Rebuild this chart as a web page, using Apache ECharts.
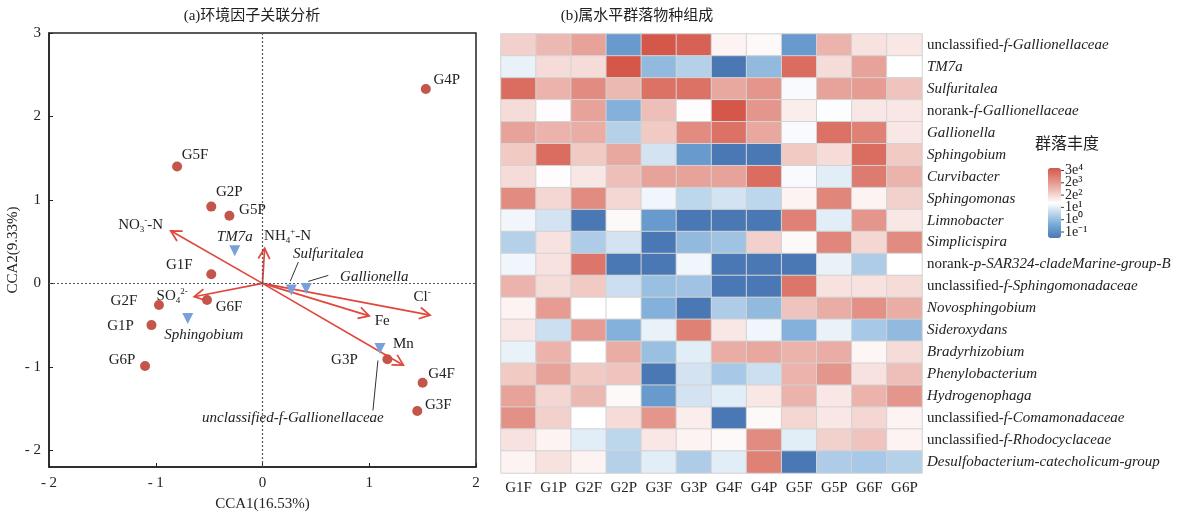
<!DOCTYPE html>
<html><head><meta charset="utf-8">
<script src="https://cdn.jsdelivr.net/npm/echarts@6/dist/echarts.min.js"></script>
<style>html,body{margin:0;padding:0;background:#fff}#c{width:1186px;height:517px}</style>
</head><body><div id="c"></div>
<script>
// ---------- (a) CCA data ----------
const sampleNames = ['G4P','G5F','G2P','G5P','G1F','G6F','G2F','G1P','G6P','G3P','G4F','G3F'];
const sampleX = [1.53,-0.80,-0.48,-0.31,-0.48,-0.52,-0.97,-1.04,-1.10,1.17,1.50,1.45];
const sampleY = [2.33,1.40,0.92,0.81,0.11,-0.20,-0.26,-0.50,-0.99,-0.91,-1.19,-1.53];
const taxaNames = ['TM7a','Sulfuritalea','Gallionella','Sphingobium','unclassified-f-Gallionellaceae'];
const taxaX = [-0.26,0.27,0.41,-0.70,1.10];
const taxaY = [0.39,-0.08,-0.06,-0.42,-0.78];
const envNames = ['NO3-N','NH4+-N','SO42-','Cl-','Fe','Mn'];
const envX = [-0.86,0.02,-0.64,1.57,1.00,1.32];
const envY = [0.63,0.42,-0.16,-0.38,-0.39,-0.98];
const xTicks = [-2,-1,0,1,2];
const yTicks = [-2,-1,0,1,2,3];

// ---------- (b) heatmap data ----------
const samples = ['G1F','G1P','G2F','G2P','G3F','G3P','G4F','G4P','G5F','G5P','G6F','G6P'];
const genera = ['unclassified-f-Gallionellaceae','TM7a','Sulfuritalea','norank-f-Gallionellaceae','Gallionella',
  'Sphingobium','Curvibacter','Sphingomonas','Limnobacter','Simplicispira','norank-p-SAR324-cladeMarine-group-B',
  'unclassified-f-Sphingomonadaceae','Novosphingobium','Sideroxydans','Bradyrhizobium','Phenylobacterium',
  'Hydrogenophaga','unclassified-f-Comamonadaceae','unclassified-f-Rhodocyclaceae','Desulfobacterium-catecholicum-group'];
const abundance = [
  [0.8,1.2,1.6,-2.2,3,2.8,0.2,0.1,-2.2,1.3,0.5,0.4],
  [-0.3,0.6,0.6,3,-1.5,-1.0,-3,-1.5,2.6,0.6,1.6,0],
  [2.6,1.3,2.0,1.2,2.5,2.5,1.5,1.8,-0.1,1.6,1.7,1.0],
  [0.6,0.05,1.6,-1.7,1.1,0.05,3,1.8,0.3,-0.05,0.4,0.4],
  [1.6,1.3,1.4,-1.0,0.9,2.0,2.5,1.5,-0.1,2.5,2.2,0.4],
  [0.9,2.6,0.9,1.5,-0.6,-2.2,-3,-3,0.9,0.6,2.6,0.9],
  [0.6,0.05,0.4,1.1,1.6,1.6,1.6,2.6,-0.1,-0.4,2.3,1.3],
  [2.0,0.7,2.0,0.7,-0.2,-0.9,-0.6,-0.9,0.2,2.1,0.2,0.8],
  [-0.2,-0.6,-3,0.1,-2.2,-3,-3,-3,2.2,-0.4,1.8,0.4],
  [-1.0,0.5,-1.1,-0.6,-3,-1.5,-1.3,0.8,0.1,2.1,0.7,2.0],
  [-0.2,0.5,2.4,-3,-3,-0.2,-3,-3,-3,-0.3,-1.1,0],
  [1.3,0.6,0.9,-0.7,-1.4,-1.3,-3,-3,2.4,0.5,0.5,0.6],
  [0.2,1.7,0,0,-1.7,-3,-1.1,-1.5,1.0,1.4,1.9,1.4],
  [0.4,-0.7,1.7,-1.7,-0.3,2.2,0.4,-0.2,-1.7,-0.3,-1.2,-1.5],
  [-0.3,1.3,0,1.4,-1.4,-0.4,1.4,1.5,1.3,1.4,0.15,0.6],
  [0.9,1.6,0.9,1.0,-3,-0.6,-1.2,-0.7,1.3,1.8,0.5,1.1],
  [1.6,0.7,1.2,0.1,-2.2,-0.6,-0.4,0.4,1.3,0.4,1.3,1.8],
  [1.9,0.8,0,0.6,1.8,0.3,-3,0.1,0.7,0.4,0.7,0.2],
  [0.5,0.2,-0.4,-0.9,0.4,0.2,0.1,2.0,-0.4,0.8,1.0,0.2],
  [0.2,0.5,0.2,-1.0,-0.4,-1.1,-0.4,2.2,-3,-1.1,-1.2,-1.0]
];
const legendLabels = ['3e⁴','2e³','2e²','1e¹','1e⁰','1e⁻¹'];

// ---------- layout / style ----------
const SERIF = "'Liberation Serif','Times New Roman','Noto Sans CJK SC',serif";
const CJK = "'Liberation Serif','Noto Sans CJK SC',serif";
const RED = '#e0473d';
const DOT = '#c3554b';
const TRI = '#7a9fd9';
const FS = 15;

const sampleLabelOff = {G4P:[21,-9],G5F:[18,-11],G2P:[18,-15],G5P:[23,-6],G1F:[-32,-9],G6F:[22,7],
  G2F:[-35,-4],G1P:[-31,1],G6P:[-23,-6],G3P:[-43,1],G4F:[19,-9],G3F:[21,-6]};
const taxaLabelOff = {'TM7a':[0,-14],'Sulfuritalea':[37,-36],'Gallionella':[68,-11],'Sphingobium':[16,17],
  'unclassified-f-Gallionellaceae':[-87,70]};
const taxaLeader = {'Sulfuritalea':[[-1,-9],[7,-28]],'Gallionella':[[2,-7],[22,-13]],
  'unclassified-f-Gallionellaceae':[[-2,12],[-7,62]]};
const envLabelOff = {'NO3-N':[-30,-6],'NH4+-N':[23,-12],'SO42-':[-22,-1],'Cl-':[-8,-18],'Fe':[13,5],'Mn':[0,-21]};
const envRich = {'NO3-N':'NO{sub|3}{sup|-}-N','NH4+-N':'NH{sub|4}{sup|+}-N','SO42-':'SO{sub|4}{sup|2-}',
  'Cl-':'Cl{sup|-}','Fe':'Fe','Mn':'Mn'};
const richStyles = {
  sub:{fontSize:9,fontFamily:SERIF,fill:'#222',verticalAlign:'bottom',lineHeight:9},
  sup:{fontSize:9,fontFamily:SERIF,fill:'#222',verticalAlign:'top',lineHeight:9}
};

const chart = echarts.init(document.getElementById('c'));

function genusLabel(name){
  const m = name.match(/^(unclassified-|norank-)(.*)$/);
  if (m) return '{r|' + m[1] + '}{i|' + m[2] + '}';
  return '{i|' + name + '}';
}
const negFmt = v => v < 0 ? '- ' + Math.abs(v) : String(v);

const heatData = [];
abundance.forEach((row, r) => row.forEach((v, c) => heatData.push([c, r, v])));

const ptLabel = {show: true, position: 'inside', fontFamily: SERIF, fontSize: FS, color: '#222',
  textBorderWidth: 0, textShadowBlur: 0, opacity: 1};

const option = {
  animation: false,
  backgroundColor: '#fff',
  textStyle: {fontFamily: SERIF},
  grid: [
    {left: 49, top: 33, width: 427, height: 438, show: true, borderColor: '#222', borderWidth: 1.5, backgroundColor: 'transparent'},
    {left: 501, top: 34, width: 421, height: 439}
  ],
  xAxis: [
    {gridIndex: 0, type: 'value', min: -2, max: 2, interval: 1,
     name: 'CCA1(16.53%)', nameLocation: 'middle', nameGap: 30,
     nameTextStyle: {fontFamily: SERIF, fontSize: FS, color: '#222'},
     axisLine: {show: true, onZero: false, lineStyle: {color: '#222', width: 1.5}},
     axisTick: {show: true, inside: true, length: 4, lineStyle: {color: '#222'}},
     axisLabel: {fontFamily: SERIF, fontSize: FS, color: '#222', margin: 9, formatter: negFmt},
     splitLine: {show: false}},
    {gridIndex: 1, type: 'category', data: samples,
     axisLine: {show: false}, axisTick: {show: false},
     axisLabel: {fontFamily: SERIF, fontSize: FS, color: '#222', margin: 8},
     splitLine: {show: false}}
  ],
  yAxis: [
    {gridIndex: 0, type: 'value', min: -2.2, max: 3,
     name: 'CCA2(9.33%)', nameLocation: 'middle', nameGap: 26,
     nameTextStyle: {fontFamily: SERIF, fontSize: FS, color: '#222'},
     axisLine: {show: true, onZero: false, lineStyle: {color: '#222', width: 1.5}},
     axisTick: {show: true, inside: true, length: 4, customValues: yTicks, lineStyle: {color: '#222'}},
     axisLabel: {fontFamily: SERIF, fontSize: FS, color: '#222', margin: 8,
       customValues: yTicks, formatter: negFmt},
     splitLine: {show: false}},
    {gridIndex: 1, type: 'category', data: genera, inverse: true, position: 'right',
     axisLine: {show: false}, axisTick: {show: false},
     axisLabel: {align: 'left', margin: 5, fontSize: FS, color: '#222', fontFamily: SERIF,
       formatter: genusLabel,
       rich: {r: {fontFamily: SERIF, fontSize: FS, color: '#222'},
              i: {fontFamily: SERIF, fontSize: FS, color: '#222', fontStyle: 'italic'}}},
     splitLine: {show: false}}
  ],
  visualMap: {
    type: 'continuous', seriesIndex: 4, min: -3, max: 3, show: true, calculable: false,
    left: 1048, top: 168, itemWidth: 13, itemHeight: 70, padding: 0, text: null,
    inRange: {color: ['#4a78b5','#6fa3d4','#b5d1ea','#ffffff','#efc4be','#e28b80','#d5574a']},
    hoverLink: false
  },
  graphic: [
    {type: 'text', x: 252, y: 16, style: {text: '(a)环境因子关联分析', font: FS + 'px ' + CJK, fill: '#222', align: 'center', verticalAlign: 'middle'}},
    {type: 'text', x: 637, y: 16, style: {text: '(b)属水平群落物种组成', font: FS + 'px ' + CJK, fill: '#222', align: 'center', verticalAlign: 'middle'}},
    {type: 'text', x: 1067, y: 145, style: {text: '群落丰度', font: '16px ' + CJK, fill: '#222', align: 'center', verticalAlign: 'middle'}}
  ].concat(legendLabels.map((t, i) => ({
    type: 'group', children: [
      {type: 'line', shape: {x1: 1061, y1: 170.5 + i * 12.3, x2: 1064, y2: 170.5 + i * 12.3}, style: {stroke: '#444', lineWidth: 1}},
      {type: 'text', x: 1065, y: 170.5 + i * 12.3, style: {text: t, font: '14px ' + SERIF, fill: '#222', align: 'left', verticalAlign: 'middle'}}
    ]}))),
  series: [
    // zero lines + sample points
    {type: 'scatter', xAxisIndex: 0, yAxisIndex: 0, z: 3,
     symbol: 'circle', symbolSize: 10, itemStyle: {color: DOT, opacity: 1},
     data: sampleNames.map((n, i) => ({name: n, value: [sampleX[i], sampleY[i]],
       label: Object.assign({}, ptLabel, {offset: sampleLabelOff[n], formatter: n})})),
     markLine: {silent: true, symbol: 'none', animation: false,
       label: {show: false},
       lineStyle: {type: [2, 2], color: '#555', width: 1.2},
       data: [{xAxis: 0}, {yAxis: 0}]}},
    // environmental arrows
    {type: 'custom', xAxisIndex: 0, yAxisIndex: 0, z: 4, clip: false,
     data: envNames.map((n, i) => [envX[i], envY[i], i]),
     renderItem: function (params, api) {
       const o = api.coord([0, 0]);
       const p = api.coord([api.value(0), api.value(1)]);
       const name = envNames[api.value(2)];
       const ang = Math.atan2(p[1] - o[1], p[0] - o[0]);
       const L = 12, a = 0.5;
       const h1 = [p[0] - L * Math.cos(ang - a), p[1] - L * Math.sin(ang - a)];
       const h2 = [p[0] - L * Math.cos(ang + a), p[1] - L * Math.sin(ang + a)];
       const off = envLabelOff[name];
       return {type: 'group', children: [
         {type: 'line', shape: {x1: o[0], y1: o[1], x2: p[0], y2: p[1]}, style: {stroke: RED, lineWidth: 1.7}},
         {type: 'polyline', shape: {points: [h1, p, h2]}, style: {stroke: RED, lineWidth: 1.7, fill: null}},
         {type: 'text', x: p[0] + off[0], y: p[1] + off[1],
          style: {text: envRich[name], rich: richStyles, fontSize: FS, fontFamily: SERIF, fill: '#222',
                  align: 'center', verticalAlign: 'middle', lineHeight: 18}}
       ]};
     }},
    // taxa leader lines
    {type: 'custom', xAxisIndex: 0, yAxisIndex: 0, z: 2, clip: false,
     data: taxaNames.map((n, i) => [taxaX[i], taxaY[i], i]),
     renderItem: function (params, api) {
       const name = taxaNames[api.value(2)];
       const ld = taxaLeader[name];
       if (!ld) return {type: 'group', children: []};
       const p = api.coord([api.value(0), api.value(1)]);
       return {type: 'line', shape: {x1: p[0] + ld[0][0], y1: p[1] + ld[0][1], x2: p[0] + ld[1][0], y2: p[1] + ld[1][1]},
               style: {stroke: '#333', lineWidth: 1}};
     }},
    // taxa triangles
    {type: 'scatter', xAxisIndex: 0, yAxisIndex: 0, z: 5,
     symbol: 'triangle', symbolRotate: 180, symbolSize: 11, itemStyle: {color: TRI, opacity: 1},
     data: taxaNames.map((n, i) => ({name: n, value: [taxaX[i], taxaY[i]],
       label: Object.assign({}, ptLabel, {offset: taxaLabelOff[n], formatter: n, fontStyle: 'italic'})}))},
    // heatmap
    {type: 'heatmap', xAxisIndex: 1, yAxisIndex: 1, data: heatData,
     itemStyle: {borderColor: '#d3d3d3', borderWidth: 1},
     emphasis: {disabled: true}}
  ]
};
chart.setOption(option);
</script>
</body></html>
